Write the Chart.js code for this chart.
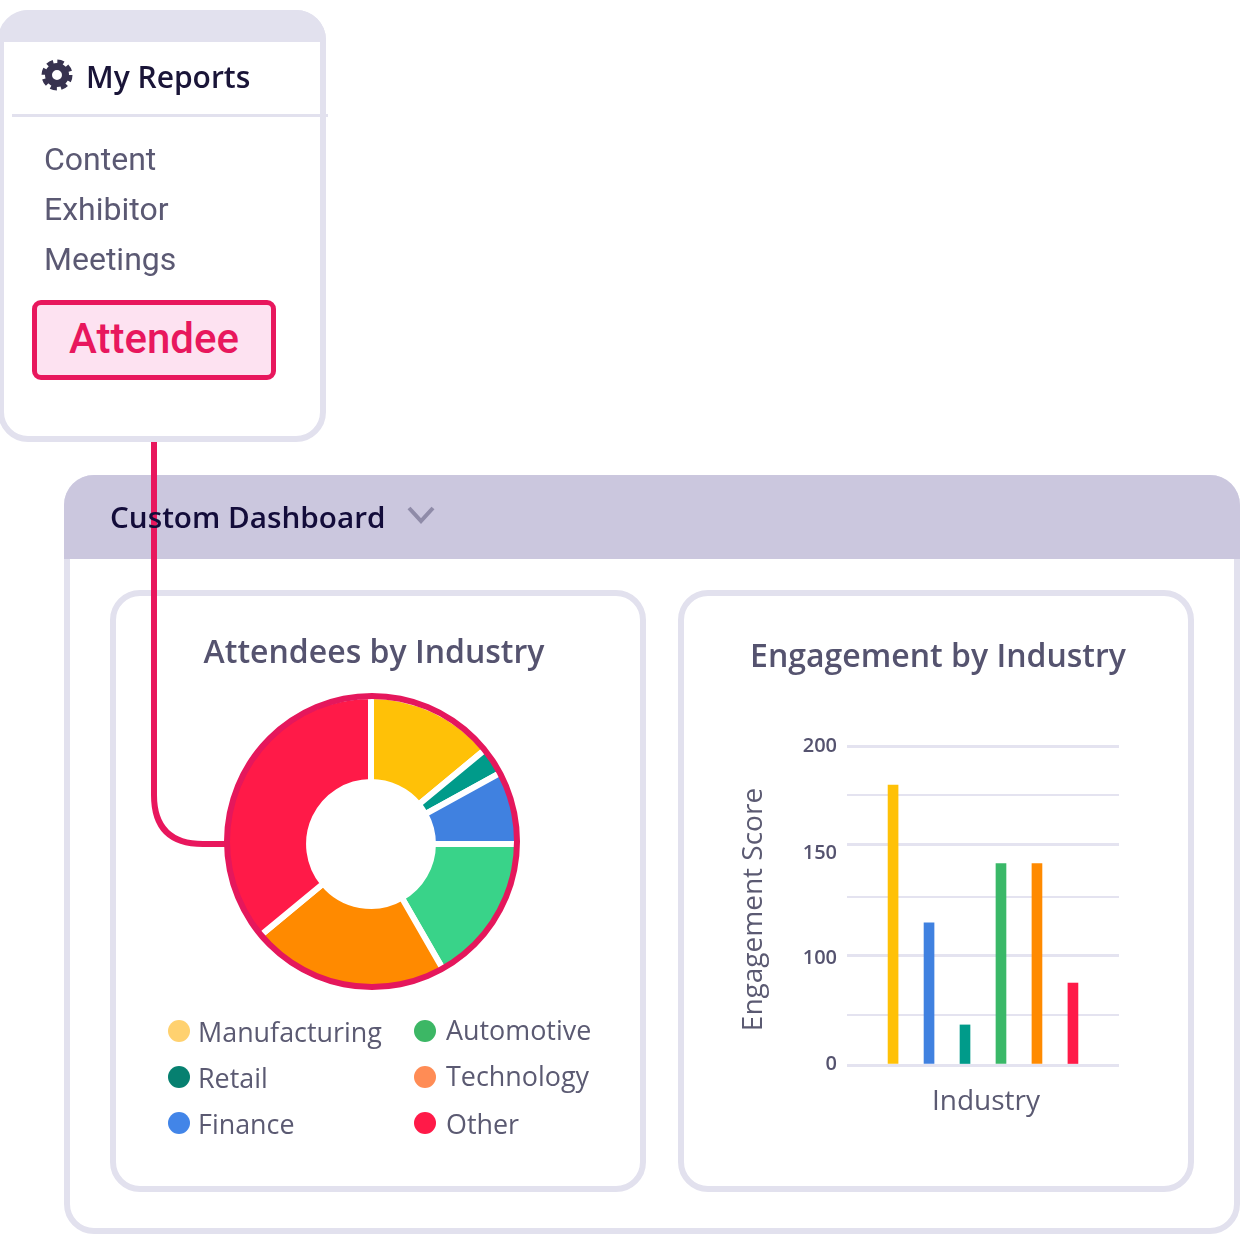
<!DOCTYPE html>
<html>
<head>
<meta charset="utf-8">
<title>Custom Dashboard</title>
<script src="https://cdn.jsdelivr.net/npm/chart.js@4"></script>
<style>
  html, body { margin: 0; padding: 0; background: #fff; }
  body { position: relative; width: 1240px; height: 1240px; overflow: hidden; font-family: "Open Sans", sans-serif; }
  .abs { position: absolute; box-sizing: border-box; }
  .card { border: 6px solid #e2e1ee; border-radius: 30px; background: #fff; }
  #menu { left: -2px; top: 10px; width: 328px; height: 432px; overflow: hidden; }
  #menuTop { left: 0; top: 10px; width: 326px; height: 32px; background: #e2e1ee; border-radius: 30px 30px 0 0; }
  #menuRule { left: 12px; top: 114px; width: 316px; height: 3px; background: #e2e1ee; }
  #menuTitle { left: 86px; top: 56px; font-size: 30px; font-weight: 600; color: #1a1538; white-space: nowrap; }
  .menuItem { left: 44px; font: 400 32px Roboto, sans-serif; color: #5b5973; }
  #attendee { left: 32px; top: 300px; width: 244px; height: 80px; border: 5px solid #e8175d; border-radius: 9px; background: #fde2f1;
    font: 500 42px/68px Roboto, sans-serif; color: #e8175d; text-align: center; }
  #dash { left: 64px; top: 475px; width: 1176px; height: 759px; }
  #dashTop { left: 64px; top: 475px; width: 1176px; height: 84px; background: #cbc7de; border-radius: 30px 30px 0 0; }
  #dashTitle { left: 110px; top: 496px; font-size: 29.7px; font-weight: 600; color: #130c3a; white-space: nowrap; }
  #leftCard { left: 110px; top: 590px; width: 536px; height: 602px; }
  #rightCard { left: 678px; top: 590px; width: 516px; height: 602px; }
  .cardTitle { font-size: 32px; font-weight: 600; color: #55536f; text-align: center; white-space: nowrap; }
  #ring { left: 224px; top: 693px; width: 296px; height: 297px; border: 6px solid #e5175c; border-radius: 50%; }
  #legend { left: 168px; top: 1008px; display: grid; grid-auto-flow: column; grid-template-rows: repeat(3, 46px); grid-template-columns: 246px 200px; }
  #legend div { display: flex; align-items: center; font-size: 26.9px; color: #5b5a72; white-space: nowrap; }
  #legend i { width: 22px; height: 22px; border-radius: 50%; margin-right: 8px; flex: none; }
  #legend div:nth-child(n+4) i { margin-right: 10px; }
  #legend div:nth-child(4) span, #legend div:nth-child(5) span { position: relative; top: -2px; }
</style>
</head>
<body>
<div class="abs card" id="dash"></div>
<div class="abs" id="dashTop"></div>
<div class="abs card" id="leftCard"></div>
<div class="abs card" id="rightCard"></div>
<div class="abs card" id="menu"></div>
<div class="abs" id="menuTop"></div>
<div class="abs" id="menuRule"></div>
<canvas class="abs" id="pie" width="300" height="300" style="left:221px;top:694px"></canvas>

<svg class="abs" style="left:0;top:0" width="1240" height="1240">
  <path d="M154 442 V795 Q154 844 203 844 H226" fill="none" stroke="#e8175d" stroke-width="6"/>
  <polyline points="409,508 421,521 433,508" fill="none" stroke="#8f8ba8" stroke-width="4"/>
  <circle cx="57" cy="75" r="8.5" fill="none" stroke="#37324f" stroke-width="7"/>
  <circle cx="57" cy="75" r="13" fill="none" stroke="#37324f" stroke-width="5" stroke-dasharray="6.2 4"/>
</svg>

<div class="abs" id="menuTitle">My Reports</div>
<div class="abs menuItem" style="top:140px">Content</div>
<div class="abs menuItem" style="top:190px">Exhibitor</div>
<div class="abs menuItem" style="top:240px">Meetings</div>
<div class="abs" id="attendee">Attendee</div>
<div class="abs" id="dashTitle">Custom Dashboard</div>
<div class="abs cardTitle" style="left:110px;width:528px;top:629px">Attendees by Industry</div>
<div class="abs cardTitle" style="left:678px;width:520px;top:633px">Engagement by Industry</div>

<div class="abs" id="ring"></div>
<div class="abs" id="legend"></div>
<canvas class="abs" id="bar" width="400" height="400" style="left:730px;top:724px"></canvas>

<script>
// doughnut, clockwise from the top
const pieLabels = ['Manufacturing', 'Retail', 'Finance', 'Automotive', 'Technology', 'Other'];
const pieValues = [14, 3, 8, 16.7, 22.3, 36];
const pieColors = ['#ffc107', '#009b8a', '#4081e0', '#39d389', '#ff8a00', '#ff1a48'];
const legendColors = ['#ffd16f', '#068070', '#4285e8', '#3cb765', '#ff8c55', '#ff1a48'];

// bars, left to right
const barLabels = ['Manufacturing', 'Finance', 'Retail', 'Automotive', 'Technology', 'Other'];
const barValues = [180, 114, 40, 141, 141, 77];
const barColors = ['#ffc107', '#4081e0', '#009b8a', '#3ab868', '#ff8a00', '#ff1a48'];

const gridValues = [0, 50, 100, 125, 150, 175, 200];
const tickLabels = [0, 100, 150, 200];

const legendEl = document.getElementById('legend');
pieLabels.forEach((name, i) => {
    const row = document.createElement('div');
    const dot = document.createElement('i');
    const text = document.createElement('span');
    dot.style.background = legendColors[i];
    text.textContent = name;
    row.appendChild(dot);
    row.appendChild(text);
    legendEl.appendChild(row);
});

// the reference axis is not evenly spaced, so pin each grid value to its share of the axis
const axisShare = [0, 0.157, 0.342, 0.527, 0.69, 0.847, 1];
// tick labels don't sit exactly on their lines in the reference
const labelNudge = { '0': -1, '100': 2, '150': 8 };

class SteppedScale extends Chart.LinearScale {
    getPixelForValue(value) {
        if (value === null || value === undefined) return NaN;
        let i = 0;
        while (i < gridValues.length - 2 && value > gridValues[i + 1]) i++;
        const t = (value - gridValues[i]) / (gridValues[i + 1] - gridValues[i]);
        return this.getPixelForDecimal(axisShare[i] + t * (axisShare[i + 1] - axisShare[i]));
    }
    _computeLabelItems(chartArea) {
        const items = super._computeLabelItems(chartArea);
        items.forEach(item => {
            item.options.translation[1] += labelNudge[item.label] || 0;
        });
        return items;
    }
    drawTitle() {
        this.ctx.save();
        this.ctx.translate(0, 4); // title is a little below the plot centre
        super.drawTitle();
        this.ctx.restore();
    }
}
SteppedScale.id = 'stepped';
SteppedScale.defaults = Chart.LinearScale.defaults;

// axis title is a little right of the plot centre in the reference
class ShiftedTitleScale extends Chart.LinearScale {
    drawTitle() {
        this.ctx.save();
        this.ctx.translate(3, 0);
        super.drawTitle();
        this.ctx.restore();
    }
}
ShiftedTitleScale.id = 'shiftedTitle';
ShiftedTitleScale.defaults = Chart.LinearScale.defaults;
Chart.register(SteppedScale, ShiftedTitleScale);

new Chart(document.getElementById('pie').getContext('2d'), {
    type: 'doughnut',
    data: {
        labels: pieLabels,
        datasets: [{
            data: pieValues,
            backgroundColor: pieColors,
            borderColor: '#fff',
            borderWidth: 6,
            hoverOffset: 0
        }]
    },
    options: {
        responsive: false,
        animation: false,
        radius: 148,
        cutout: 61.5,
        plugins: { legend: { display: false }, tooltip: { enabled: false } }
    }
});

new Chart(document.getElementById('bar').getContext('2d'), {
    type: 'bar',
    data: {
        datasets: [{
            data: barValues.map((v, i) => ({ x: i, y: v, name: barLabels[i] })),
            backgroundColor: barColors,
            barThickness: 10
        }]
    },
    options: {
        responsive: false,
        animation: false,
        layout: { padding: { top: 9, right: 11 } },
        plugins: { legend: { display: false }, tooltip: { enabled: false } },
        scales: {
            x: {
                type: 'shiftedTitle',
                min: -1.28,
                max: 6.28,
                offset: false,
                grid: { display: false },
                border: { display: false },
                ticks: { display: false },
                title: {
                    display: true,
                    text: 'Industry',
                    color: '#5b5a72',
                    font: { family: 'Open Sans', size: 28 },
                    padding: { top: 0, bottom: 5 }
                },
                afterFit: scale => { scale.height = 59; }
            },
            y: {
                type: 'stepped',
                min: 0,
                max: 200,
                afterBuildTicks: scale => { scale.ticks = gridValues.map(value => ({ value })); },
                grid: {
                    color: '#e4e3f0',
                    drawTicks: false,
                    lineWidth: ctx => tickLabels.includes(ctx.tick.value) ? 3 : 2
                },
                border: { display: false },
                ticks: {
                    color: '#55536f',
                    padding: 10,
                    font: { family: 'Open Sans', size: 20, weight: '600' },
                    callback: value => tickLabels.includes(value) ? String(value) : ''
                },
                title: {
                    display: true,
                    text: 'Engagement Score',
                    color: '#5b5a72',
                    font: { family: 'Open Sans', size: 28 },
                    padding: { top: 7, bottom: 0 }
                },
                afterFit: scale => { scale.width = 117; }
            }
        }
    }
});
</script>
</body>
</html>
